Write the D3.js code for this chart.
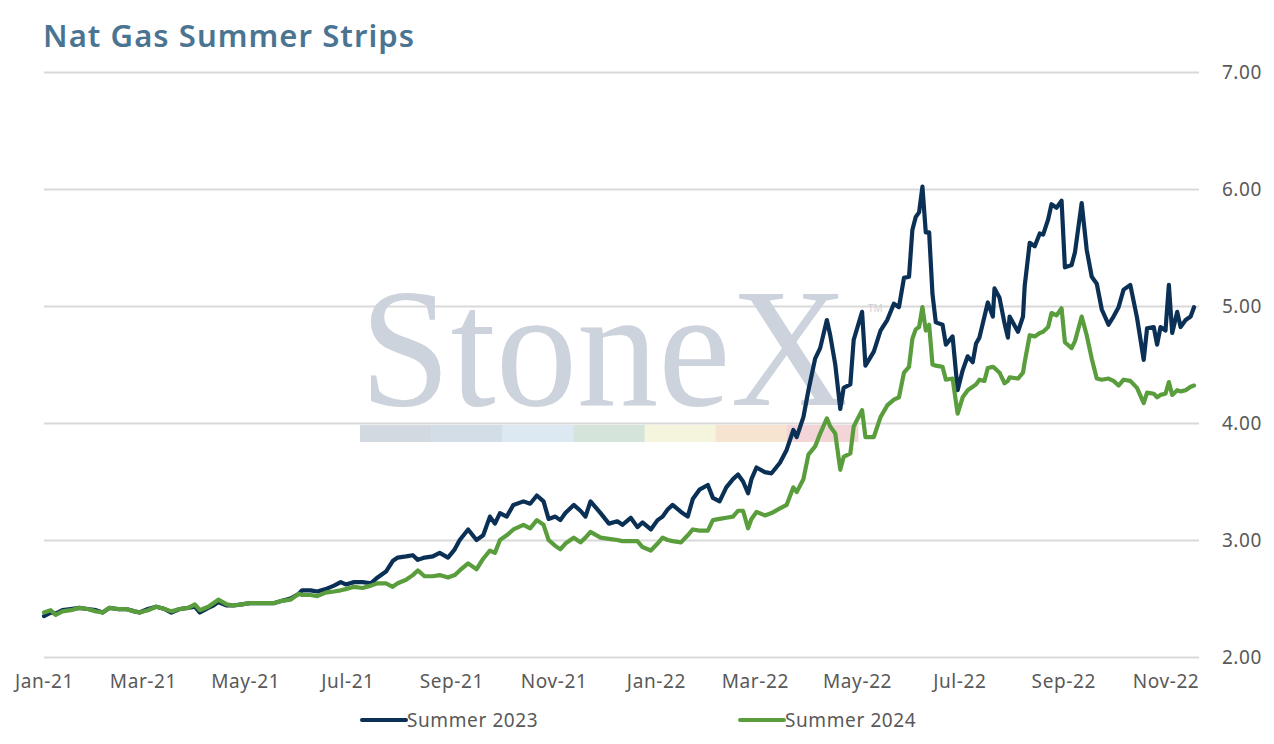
<!DOCTYPE html>
<html>
<head>
<meta charset="utf-8">
<script src="https://cdn.jsdelivr.net/npm/d3@7"></script>
<style>
  body { margin: 0; background: #fff; }
  #graf { width: 1274px; height: 744px; }
</style>
</head>
<body>
<div id="graf"></div>
<script>
// fechas de lectura (aprox. semanal, mas denso en los picos)
const fechas = [
  '2021-01-01','2021-01-05','2021-01-08','2021-01-12','2021-01-17','2021-01-22','2021-01-27','2021-02-01',
  '2021-02-05','2021-02-09','2021-02-14','2021-02-19','2021-02-24','2021-02-27','2021-03-04','2021-03-09',
  '2021-03-14','2021-03-18','2021-03-23','2021-03-28','2021-04-01','2021-04-04','2021-04-09','2021-04-12',
  '2021-04-15','2021-04-20','2021-04-24','2021-04-29','2021-05-04','2021-05-09','2021-05-13','2021-05-18',
  '2021-05-23','2021-05-28','2021-06-02','2021-06-04','2021-06-09','2021-06-13','2021-06-18','2021-06-23',
  '2021-06-27','2021-06-30','2021-07-05','2021-07-10','2021-07-15','2021-07-19','2021-07-24','2021-07-28',
  '2021-07-31','2021-08-05','2021-08-09','2021-08-12','2021-08-16','2021-08-21','2021-08-25','2021-08-30',
  '2021-09-03','2021-09-06','2021-09-11','2021-09-16','2021-09-20','2021-09-24','2021-09-27','2021-09-30',
  '2021-10-04','2021-10-08','2021-10-14','2021-10-18','2021-10-22','2021-10-26','2021-10-29','2021-11-02',
  '2021-11-05','2021-11-08','2021-11-13','2021-11-17','2021-11-20','2021-11-23','2021-11-29','2021-12-04',
  '2021-12-09','2021-12-12','2021-12-17','2021-12-21','2021-12-24','2021-12-29','2022-01-02','2022-01-05',
  '2022-01-08','2022-01-11','2022-01-16','2022-01-20','2022-01-23','2022-01-27','2022-02-01','2022-02-04',
  '2022-02-08','2022-02-12','2022-02-16','2022-02-19','2022-02-22','2022-02-25','2022-02-27','2022-03-02',
  '2022-03-07','2022-03-11','2022-03-16','2022-03-20','2022-03-24','2022-03-26','2022-03-30','2022-04-02',
  '2022-04-06','2022-04-09','2022-04-13','2022-04-15','2022-04-18','2022-04-21','2022-04-23','2022-04-27',
  '2022-04-29','2022-05-04','2022-05-06','2022-05-11','2022-05-15','2022-05-19','2022-05-23','2022-05-26',
  '2022-05-29','2022-06-01','2022-06-03','2022-06-05','2022-06-07','2022-06-09','2022-06-11','2022-06-13',
  '2022-06-15','2022-06-17','2022-06-21','2022-06-23','2022-06-27','2022-06-30','2022-07-03','2022-07-06',
  '2022-07-09','2022-07-11','2022-07-13','2022-07-16','2022-07-18','2022-07-21','2022-07-22','2022-07-25',
  '2022-07-28','2022-07-30','2022-07-31','2022-08-05','2022-08-08','2022-08-09','2022-08-12','2022-08-15',
  '2022-08-18','2022-08-20','2022-08-23','2022-08-25','2022-08-28','2022-08-31','2022-09-02','2022-09-06',
  '2022-09-08','2022-09-12','2022-09-15','2022-09-18','2022-09-21','2022-09-24','2022-09-28','2022-10-01',
  '2022-10-04','2022-10-07','2022-10-11','2022-10-15','2022-10-19','2022-10-21','2022-10-25','2022-10-27',
  '2022-10-29','2022-11-01','2022-11-03','2022-11-05','2022-11-08','2022-11-10','2022-11-13','2022-11-16',
  '2022-11-18'
]

const summer2023 = [
  2.35,2.38,2.37,2.40,2.41,2.42,2.41,2.40,
  2.38,2.42,2.41,2.41,2.39,2.38,2.41,2.43,
  2.41,2.38,2.41,2.42,2.43,2.38,2.42,2.44,
  2.47,2.44,2.44,2.45,2.46,2.46,2.46,2.46,
  2.48,2.50,2.54,2.57,2.57,2.56,2.58,2.61,
  2.64,2.62,2.64,2.64,2.63,2.68,2.73,2.82,
  2.85,2.86,2.87,2.83,2.85,2.86,2.89,2.85,
  2.92,3.00,3.09,3.00,3.04,3.20,3.14,3.23,
  3.20,3.30,3.33,3.31,3.38,3.33,3.18,3.20,
  3.17,3.23,3.30,3.25,3.20,3.33,3.23,3.14,
  3.16,3.13,3.19,3.11,3.15,3.09,3.17,3.20,
  3.26,3.30,3.24,3.20,3.35,3.43,3.47,3.36,
  3.33,3.45,3.52,3.56,3.50,3.40,3.52,3.62,
  3.58,3.57,3.66,3.77,3.94,3.88,4.05,4.28,
  4.55,4.64,4.88,4.75,4.50,4.12,4.30,4.33,
  4.71,4.95,4.49,4.61,4.79,4.88,5.02,4.99,
  5.24,5.25,5.65,5.76,5.80,6.02,5.63,5.63,
  5.10,4.86,4.84,4.67,4.74,4.28,4.45,4.57,
  4.52,4.68,4.73,4.91,5.03,4.91,5.15,5.07,
  4.85,4.73,4.91,4.78,4.91,5.17,5.54,5.51,
  5.62,5.61,5.74,5.87,5.84,5.90,5.33,5.35,
  5.46,5.88,5.48,5.25,5.19,4.97,4.84,4.91,
  4.99,5.14,5.18,4.90,4.54,4.81,4.82,4.67,
  4.82,4.79,5.18,4.77,4.95,4.82,4.88,4.91,
  4.99
]

const summer2024 = [
  2.38,2.40,2.36,2.39,2.40,2.42,2.41,2.39,
  2.38,2.42,2.41,2.41,2.39,2.38,2.40,2.43,
  2.41,2.39,2.41,2.42,2.45,2.40,2.43,2.46,
  2.49,2.45,2.44,2.45,2.46,2.46,2.46,2.46,
  2.48,2.49,2.54,2.53,2.53,2.52,2.55,2.56,
  2.57,2.58,2.60,2.59,2.61,2.63,2.63,2.60,
  2.63,2.66,2.70,2.74,2.69,2.69,2.70,2.68,
  2.70,2.74,2.80,2.75,2.84,2.91,2.89,3.00,
  3.04,3.09,3.13,3.10,3.17,3.13,3.00,2.95,
  2.92,2.97,3.02,2.98,3.02,3.07,3.02,3.01,
  3.00,2.99,2.99,2.99,2.94,2.91,2.97,3.02,
  3.00,2.99,2.98,3.04,3.09,3.08,3.08,3.17,
  3.18,3.19,3.20,3.25,3.25,3.10,3.18,3.24,
  3.21,3.23,3.27,3.30,3.45,3.41,3.52,3.73,
  3.80,3.91,4.04,3.97,3.91,3.60,3.71,3.74,
  3.97,4.11,3.88,3.88,4.05,4.15,4.20,4.22,
  4.43,4.48,4.72,4.80,4.82,4.99,4.79,4.84,
  4.50,4.49,4.48,4.37,4.38,4.08,4.22,4.28,
  4.31,4.33,4.37,4.36,4.47,4.48,4.47,4.43,
  4.34,4.36,4.39,4.38,4.43,4.52,4.75,4.74,
  4.77,4.78,4.82,4.94,4.92,4.98,4.69,4.64,
  4.70,4.91,4.75,4.55,4.38,4.37,4.38,4.36,
  4.32,4.37,4.36,4.30,4.17,4.26,4.25,4.22,
  4.24,4.25,4.35,4.24,4.28,4.27,4.28,4.31,
  4.32
]

const ticksY = [2, 3, 4, 5, 6, 7]
const nombresSeries = ['Summer 2023', 'Summer 2024']
const coloresSeries = ['#0b3056', '#5a9d3c']
const titulo = 'Nat Gas Summer Strips'

const fuente = '"Noto Sans", "Open Sans", sans-serif'
const anchoTotal = 1274
const altoTotal = 744

const svg = d3.select('#graf')
  .append('svg')
  .attr('width', anchoTotal)
  .attr('height', altoTotal)

const parse = d3.timeParse('%Y-%m-%d')
const fechasD = fechas.map(parse)

const x = d3.scaleTime()
  .domain([parse('2021-01-01'), parse('2022-11-18')])
  .range([44, 1194])

const y = d3.scaleLinear()
  .domain([2, 7])
  .range([657, 72])

// titulo
svg.append('text')
  .attr('x', 43)
  .attr('y', 47)
  .attr('fill', '#4a7491')
  .attr('font-family', fuente)
  .attr('font-size', 31)
  .attr('font-weight', 600)
  .attr('textLength', 371)
  .attr('lengthAdjust', 'spacing')
  .text(titulo)

// lineas de grilla + etiquetas a la derecha
const yAxisGroup = svg.append('g')
  .attr('transform', 'translate(1199, 0)')
  .call(d3.axisRight(y)
    .tickValues(ticksY)
    .tickSize(-1155)
    .tickPadding(63)
    .tickFormat(d3.format('.2f')))

yAxisGroup.select('.domain').remove()
yAxisGroup.selectAll('line')
  .attr('stroke', '#d9d9d9')
  .attr('stroke-width', 2)
yAxisGroup.selectAll('text')
  .attr('text-anchor', 'end')
  .attr('fill', '#595959')
  .attr('font-size', 19)
  .attr('letter-spacing', 0.6)
  .attr('font-family', fuente)

// marca de agua
const marca = svg.append('g').attr('class', 'marca')
marca.append('text')
  .attr('x', 360)
  .attr('y', 405)
  .attr('font-family', '"Liberation Serif", "DejaVu Serif", serif')
  .attr('font-size', 170)
  .attr('textLength', 488)
  .attr('lengthAdjust', 'spacingAndGlyphs')
  .attr('fill', '#ccd3dc')
  .text('StoneX')
marca.append('text')
  .attr('x', 868)
  .attr('y', 312)
  .attr('font-family', fuente)
  .attr('font-size', 10)
  .attr('fill', '#ccd3dc')
  .text('TM')

const coloresMarca = ['#d3d9e0', '#d3dde8', '#dce9f2', '#d4e4da', '#f5f4dc', '#f7e4d0', '#f3d5d8']
const xm = d3.scaleBand().domain(d3.range(coloresMarca.length)).range([360, 858])
marca.selectAll('rect')
  .data(coloresMarca)
  .enter()
  .append('rect')
  .attr('x', (d, i) => xm(i))
  .attr('y', 425)
  .attr('width', xm.bandwidth() + 0.5)
  .attr('height', 17)
  .attr('fill', d => d)

// eje x
const xAxisGroup = svg.append('g')
  .attr('transform', 'translate(0, 657)')
  .call(d3.axisBottom(x)
    .ticks(d3.timeMonth.every(2))
    .tickSize(0)
    .tickPadding(18)
    .tickFormat(d3.timeFormat('%b-%y')))

xAxisGroup.select('.domain').remove()
xAxisGroup.selectAll('text')
  .attr('fill', '#595959')
  .attr('font-size', 19)
  .attr('letter-spacing', 0.6)
  .attr('font-family', fuente)

// series
const series = [summer2023, summer2024]
const linea = d3.line()
  .x((d, i) => x(fechasD[i]))
  .y(d => y(d))

svg.selectAll('path.serie')
  .data(series)
  .enter()
  .append('path')
  .attr('class', 'serie')
  .attr('d', d => linea(d))
  .attr('fill', 'none')
  .attr('stroke', (d, i) => coloresSeries[i])
  .attr('stroke-width', 4.2)
  .attr('stroke-linejoin', 'round')
  .attr('stroke-linecap', 'round')

// leyenda
const leyendaX = [362, 740]
const leyenda = svg.selectAll('g.ley')
  .data(nombresSeries)
  .enter()
  .append('g')
  .attr('class', 'ley')
  .attr('transform', (d, i) => `translate(${leyendaX[i]}, 720)`)

leyenda.append('line')
  .attr('x1', 0)
  .attr('x2', 44)
  .attr('stroke', (d, i) => coloresSeries[i])
  .attr('stroke-width', 4)
  .attr('stroke-linecap', 'round')

leyenda.append('text')
  .attr('x', 45)
  .attr('y', 7)
  .attr('fill', '#595959')
  .attr('font-family', fuente)
  .attr('font-size', 19)
  .attr('letter-spacing', 0.6)
  .text(d => d)
</script>
</body>
</html>
